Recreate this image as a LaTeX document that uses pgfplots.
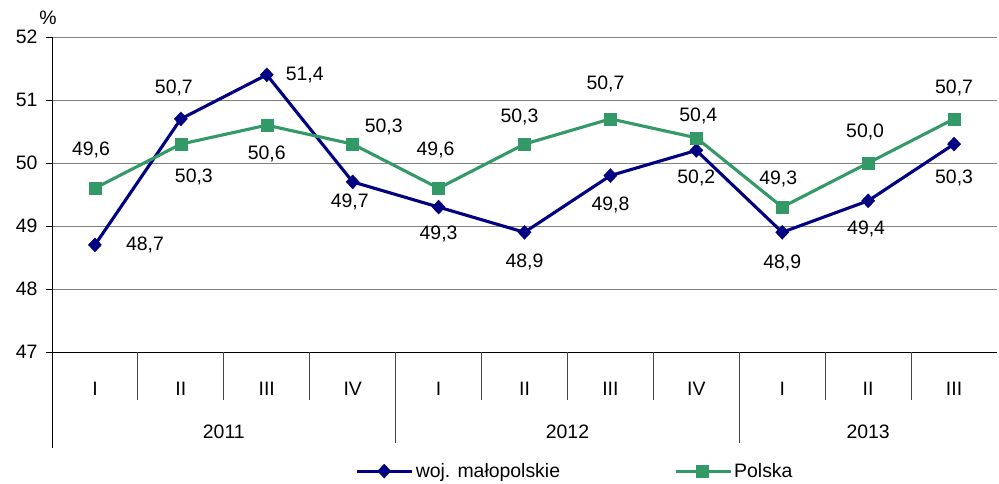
\documentclass[border=0pt]{standalone}
\usepackage{fontspec}
\setmainfont{Liberation Sans}
\usepackage{pgfplots}
\usepackage{pgfplotstable}
\pgfplotsset{compat=1.18}
\definecolor{navyc}{RGB}{0,0,128}
\definecolor{greenc}{RGB}{51,153,102}
\definecolor{gridc}{RGB}{128,128,128}
\definecolor{sepc}{RGB}{70,70,70}

\pgfplotstableread{
x y xs ys
0 48.7 50 0
1 50.7 -7 31
2 51.4 38 0
3 49.7 -3 -20
4 49.3 0 -27
5 48.9 0 -30
6 49.8 0 -29
7 50.2 0 -28
8 48.9 0 -31
9 49.4 -2 -28
10 50.3 0 -34
}\woj

\pgfplotstableread{
x y xs ys
0 49.6 -4 38
1 50.3 13 -33
2 50.6 0 -29
3 50.3 31 17
4 49.6 -3 38
5 50.3 -5 27
6 50.7 -5 35
7 50.4 2 22
8 49.3 -4 28
9 50.0 -3 31
10 50.7 0 31
}\polska

\pgfplotsset{
  lbls/.style={
    nodes near coords={\pgfmathprintnumber[fixed, fixed zerofill, precision=1, use comma, assume math mode=true]{\pgfplotspointmeta}},
    point meta=y,
    visualization depends on={\thisrow{xs}\as\xs},
    visualization depends on={\thisrow{ys}\as\ys},
    every node near coord/.append style={anchor=center, xshift=\xs bp, yshift=\ys bp, black, font=\fontsize{19.5}{22}\selectfont},
  }
}

\begin{document}
\begin{tikzpicture}
\begin{axis}[
  scale only axis,
  width=945bp, height=315bp,
  xmin=-0.5, xmax=10.5,
  ymin=47, ymax=52,
  axis x line*=bottom,
  axis y line*=left,
  axis line style={black, line width=0.9bp},
  ytick={47,48,49,50,51,52},
  ymajorgrids,
  major grid style={gridc, line width=0.9bp},
  ytick style={black, line width=0.9bp},
  tick align=outside,
  major tick length=6bp,
  yticklabel style={xshift=-5bp},
  xtick={0,...,10},
  xticklabels={I,II,III,IV,I,II,III,IV,I,II,III},
  xtick style={draw=none},
  xticklabel style={anchor=center, yshift=-30.5bp},
  font=\fontsize{19.5}{22}\selectfont,
  /pgf/number format/assume math mode=true,
  clip=false,
  legend style={at={(0.318,-0.378)}, anchor=west, draw=none, fill=none,
    legend columns=2, font=\fontsize{19.5}{22}\selectfont,
    /tikz/every even column/.append style={column sep=112bp},
    legend cell align=left},
  legend image code/.code={\draw[mark repeat=2,mark phase=2,#1] plot coordinates {(0bp,0bp) (27bp,0bp) (55bp,0bp)};},
]
\addplot[navyc, line width=3.1bp, mark=diamond*, mark size=7bp, mark options={solid, fill=navyc, line width=0.4bp, xscale=1.25}, lbls] table[x=x, y=y] {\woj};
\addlegendentry{woj. małopolskie}
\addplot[greenc, line width=3.1bp, mark=square*, mark size=6bp, mark options={solid, fill=greenc, line width=0.4bp}, lbls] table[x=x, y=y] {\polska};
\addlegendentry{Polska}

% category table lines
\pgfplotsinvokeforeach{0.5,1.5,2.5,4.5,5.5,6.5,8.5,9.5}{
  \draw[sepc, line width=0.9bp] (axis cs:#1,47) -- ([yshift=-48bp]axis cs:#1,47);
}
\draw[sepc, line width=0.9bp] (axis cs:3.5,47) -- ([yshift=-91bp]axis cs:3.5,47);
\draw[sepc, line width=0.9bp] (axis cs:7.5,47) -- ([yshift=-91bp]axis cs:7.5,47);
\draw[black, line width=0.9bp] (axis cs:-0.5,47) -- ([yshift=-96bp]axis cs:-0.5,47);
\node[anchor=center] at ([yshift=-79.5bp]axis cs:1.5,47) {2011};
\node[anchor=center] at ([yshift=-79.5bp]axis cs:5.5,47) {2012};
\node[anchor=center] at ([yshift=-79.5bp]axis cs:9,47) {2013};
\node[anchor=center] at ([xshift=-4bp,yshift=19bp]rel axis cs:0,1) {\%};
\end{axis}
\pgfresetboundingbox
\path[use as bounding box] ([shift={(-52bp,-132bp)}]current axis.south west) rectangle ([shift={(2bp,37bp)}]current axis.north east);
\end{tikzpicture}
\end{document}
